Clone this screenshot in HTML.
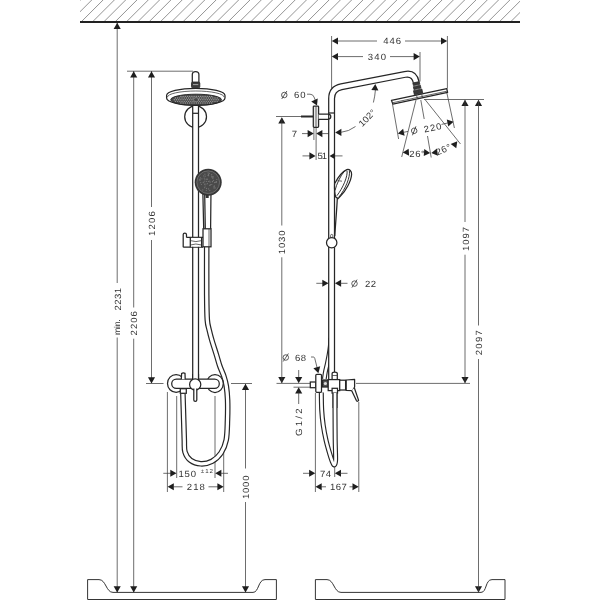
<!DOCTYPE html>
<html><head><meta charset="utf-8"><title>Shower pipe dimensions</title>
<style>
html,body{margin:0;padding:0;background:#fff;}
body{width:600px;height:600px;overflow:hidden;font-family:"Liberation Sans",sans-serif;}
svg{display:block}
svg text{font-family:"Liberation Sans",sans-serif;fill:#333;text-rendering:geometricPrecision}
.t{stroke:#3c3c3c;stroke-width:0.75}
.h{stroke:#666;stroke-width:0.7}
.k{stroke:#222;stroke-width:1.8}
.o{stroke:#262626;stroke-width:1.25}
.o2{stroke:#333;stroke-width:0.75}
.o3{stroke:#2a2a2a;stroke-width:0.95}
.w{stroke:#cfcfcf;stroke-width:0.7}
.a{fill:#1e1e1e}
</style></head><body>
<svg width="600" height="600" viewBox="0 0 600 600" fill="none">
<defs><filter id="nolcd" filterUnits="userSpaceOnUse" x="0" y="0" width="600" height="600"><feOffset dx="0" dy="0"/></filter><clipPath id="ceil"><rect x="80" y="0" width="440" height="22"/></clipPath></defs>
<rect width="600" height="600" fill="#fff"/>
<g clip-path="url(#ceil)">
<line class="h" x1="58.45" y1="22.00" x2="80.45" y2="0.00"/>
<line class="h" x1="69.75" y1="22.00" x2="91.75" y2="0.00"/>
<line class="h" x1="81.05" y1="22.00" x2="103.05" y2="0.00"/>
<line class="h" x1="92.35" y1="22.00" x2="114.35" y2="0.00"/>
<line class="h" x1="103.65" y1="22.00" x2="125.65" y2="0.00"/>
<line class="h" x1="114.95" y1="22.00" x2="136.95" y2="0.00"/>
<line class="h" x1="126.25" y1="22.00" x2="148.25" y2="0.00"/>
<line class="h" x1="137.55" y1="22.00" x2="159.55" y2="0.00"/>
<line class="h" x1="148.85" y1="22.00" x2="170.85" y2="0.00"/>
<line class="h" x1="160.15" y1="22.00" x2="182.15" y2="0.00"/>
<line class="h" x1="171.45" y1="22.00" x2="193.45" y2="0.00"/>
<line class="h" x1="182.75" y1="22.00" x2="204.75" y2="0.00"/>
<line class="h" x1="194.05" y1="22.00" x2="216.05" y2="0.00"/>
<line class="h" x1="205.35" y1="22.00" x2="227.35" y2="0.00"/>
<line class="h" x1="216.65" y1="22.00" x2="238.65" y2="0.00"/>
<line class="h" x1="227.95" y1="22.00" x2="249.95" y2="0.00"/>
<line class="h" x1="239.25" y1="22.00" x2="261.25" y2="0.00"/>
<line class="h" x1="250.55" y1="22.00" x2="272.55" y2="0.00"/>
<line class="h" x1="261.85" y1="22.00" x2="283.85" y2="0.00"/>
<line class="h" x1="273.15" y1="22.00" x2="295.15" y2="0.00"/>
<line class="h" x1="284.45" y1="22.00" x2="306.45" y2="0.00"/>
<line class="h" x1="295.75" y1="22.00" x2="317.75" y2="0.00"/>
<line class="h" x1="307.05" y1="22.00" x2="329.05" y2="0.00"/>
<line class="h" x1="318.35" y1="22.00" x2="340.35" y2="0.00"/>
<line class="h" x1="329.65" y1="22.00" x2="351.65" y2="0.00"/>
<line class="h" x1="340.95" y1="22.00" x2="362.95" y2="0.00"/>
<line class="h" x1="352.25" y1="22.00" x2="374.25" y2="0.00"/>
<line class="h" x1="363.55" y1="22.00" x2="385.55" y2="0.00"/>
<line class="h" x1="374.85" y1="22.00" x2="396.85" y2="0.00"/>
<line class="h" x1="386.15" y1="22.00" x2="408.15" y2="0.00"/>
<line class="h" x1="397.45" y1="22.00" x2="419.45" y2="0.00"/>
<line class="h" x1="408.75" y1="22.00" x2="430.75" y2="0.00"/>
<line class="h" x1="420.05" y1="22.00" x2="442.05" y2="0.00"/>
<line class="h" x1="431.35" y1="22.00" x2="453.35" y2="0.00"/>
<line class="h" x1="442.65" y1="22.00" x2="464.65" y2="0.00"/>
<line class="h" x1="453.95" y1="22.00" x2="475.95" y2="0.00"/>
<line class="h" x1="465.25" y1="22.00" x2="487.25" y2="0.00"/>
<line class="h" x1="476.55" y1="22.00" x2="498.55" y2="0.00"/>
<line class="h" x1="487.85" y1="22.00" x2="509.85" y2="0.00"/>
<line class="h" x1="499.15" y1="22.00" x2="521.15" y2="0.00"/>
<line class="h" x1="510.45" y1="22.00" x2="532.45" y2="0.00"/>
<line class="h" x1="521.75" y1="22.00" x2="543.75" y2="0.00"/>
</g>
<line class="k" x1="80.00" y1="22.00" x2="520.00" y2="22.00"/>
<line class="t" x1="127.00" y1="71.20" x2="193.00" y2="71.20"/>
<line class="t" x1="117.20" y1="23.00" x2="117.20" y2="283.00"/>
<line class="t" x1="117.20" y1="337.50" x2="117.20" y2="592.00"/>
<polygon class="a" points="117.20,22.80 120.75,29.00 113.65,29.00"/>
<polygon class="a" points="117.20,592.40 113.65,586.20 120.75,586.20"/>
<line class="t" x1="133.70" y1="71.00" x2="133.70" y2="307.50"/>
<line class="t" x1="133.70" y1="338.70" x2="133.70" y2="592.00"/>
<polygon class="a" points="133.70,71.30 137.25,77.50 130.15,77.50"/>
<polygon class="a" points="133.70,592.40 130.15,586.20 137.25,586.20"/>
<line class="t" x1="151.50" y1="71.00" x2="151.50" y2="207.00"/>
<line class="t" x1="151.50" y1="240.00" x2="151.50" y2="383.00"/>
<polygon class="a" points="151.50,71.30 155.05,77.50 147.95,77.50"/>
<polygon class="a" points="151.50,383.50 147.95,377.30 155.05,377.30"/>
<line class="t" x1="146.00" y1="383.50" x2="163.50" y2="383.50"/>
<line class="t" x1="231.00" y1="383.50" x2="252.00" y2="383.50"/>
<line class="t" x1="245.50" y1="384.00" x2="245.50" y2="468.50"/>
<line class="t" x1="245.50" y1="502.00" x2="245.50" y2="592.00"/>
<polygon class="a" points="245.50,383.80 249.05,390.00 241.95,390.00"/>
<polygon class="a" points="245.50,592.40 241.95,586.20 249.05,586.20"/>
<line class="t" x1="167.40" y1="392.00" x2="167.40" y2="492.00"/>
<line class="t" x1="176.70" y1="396.00" x2="176.70" y2="478.00"/>
<line class="t" x1="215.00" y1="396.00" x2="215.00" y2="478.00"/>
<line class="t" x1="223.70" y1="450.00" x2="223.70" y2="492.00"/>
<line class="t" x1="163.30" y1="473.30" x2="171.00" y2="473.30"/>
<polygon class="a" points="176.50,473.30 170.30,476.85 170.30,469.75"/>
<polygon class="a" points="215.20,473.30 221.40,469.75 221.40,476.85"/>
<line class="t" x1="220.50" y1="473.30" x2="228.00" y2="473.30"/>
<polygon class="a" points="167.60,486.80 173.80,483.25 173.80,490.35"/>
<line class="t" x1="173.00" y1="486.80" x2="182.50" y2="486.80"/>
<line class="t" x1="208.50" y1="486.80" x2="218.30" y2="486.80"/>
<polygon class="a" points="223.60,486.80 217.40,490.35 217.40,483.25"/>
<circle class="o" cx="195.6" cy="116.7" r="10.9"/>
<path d="M195.6 100 V381" fill="none" stroke="#262626" stroke-width="7.05" stroke-linecap="butt" stroke-linejoin="round"/>
<path d="M195.6 100 V381" fill="none" stroke="#fff" stroke-width="4.55" stroke-linecap="butt" stroke-linejoin="round"/>
<line class="o" x1="193.00" y1="113.30" x2="198.30" y2="113.30"/>
<path class="o" d="M192.3 82.5 V74.6 Q192.3 71.5 195.6 71.5 Q198.9 71.5 198.9 74.6 V82.5" fill="#fff"/>
<rect x="191.5" y="82" width="8.3" height="5.8" rx="1.2" fill="#3c3c3c" stroke="#222" stroke-width="0.8"/>
<line class="w" x1="193.00" y1="84.60" x2="198.30" y2="84.60"/>
<path class="o" d="M166.6 95.5 A29.2 7.1 0 0 1 225 95.5 V98 A29.2 7.4 0 0 1 166.6 98 Z" fill="#fff"/>
<path class="o2" d="M167.4 97.2 A28.4 6.2 0 0 1 224.2 97.2" />
<ellipse cx="196.1" cy="99.7" rx="25.4" ry="5.5" fill="#474747" stroke="#222" stroke-width="0.9"/>
<circle cx="180.90" cy="96.40" r="0.72" fill="#9a9a9a"/>
<circle cx="183.10" cy="96.40" r="0.72" fill="#9a9a9a"/>
<circle cx="185.30" cy="96.40" r="0.72" fill="#9a9a9a"/>
<circle cx="187.50" cy="96.40" r="0.72" fill="#9a9a9a"/>
<circle cx="189.70" cy="96.40" r="0.72" fill="#9a9a9a"/>
<circle cx="191.90" cy="96.40" r="0.72" fill="#9a9a9a"/>
<circle cx="194.10" cy="96.40" r="0.72" fill="#9a9a9a"/>
<circle cx="196.30" cy="96.40" r="0.72" fill="#9a9a9a"/>
<circle cx="198.50" cy="96.40" r="0.72" fill="#9a9a9a"/>
<circle cx="200.70" cy="96.40" r="0.72" fill="#9a9a9a"/>
<circle cx="202.90" cy="96.40" r="0.72" fill="#9a9a9a"/>
<circle cx="205.10" cy="96.40" r="0.72" fill="#9a9a9a"/>
<circle cx="207.30" cy="96.40" r="0.72" fill="#9a9a9a"/>
<circle cx="209.50" cy="96.40" r="0.72" fill="#9a9a9a"/>
<circle cx="211.70" cy="96.40" r="0.72" fill="#9a9a9a"/>
<circle cx="175.40" cy="98.05" r="0.72" fill="#9a9a9a"/>
<circle cx="177.60" cy="98.05" r="0.72" fill="#9a9a9a"/>
<circle cx="179.80" cy="98.05" r="0.72" fill="#9a9a9a"/>
<circle cx="182.00" cy="98.05" r="0.72" fill="#9a9a9a"/>
<circle cx="184.20" cy="98.05" r="0.72" fill="#9a9a9a"/>
<circle cx="186.40" cy="98.05" r="0.72" fill="#9a9a9a"/>
<circle cx="188.60" cy="98.05" r="0.72" fill="#9a9a9a"/>
<circle cx="190.80" cy="98.05" r="0.72" fill="#9a9a9a"/>
<circle cx="193.00" cy="98.05" r="0.72" fill="#9a9a9a"/>
<circle cx="199.60" cy="98.05" r="0.72" fill="#9a9a9a"/>
<circle cx="201.80" cy="98.05" r="0.72" fill="#9a9a9a"/>
<circle cx="204.00" cy="98.05" r="0.72" fill="#9a9a9a"/>
<circle cx="206.20" cy="98.05" r="0.72" fill="#9a9a9a"/>
<circle cx="208.40" cy="98.05" r="0.72" fill="#9a9a9a"/>
<circle cx="210.60" cy="98.05" r="0.72" fill="#9a9a9a"/>
<circle cx="212.80" cy="98.05" r="0.72" fill="#9a9a9a"/>
<circle cx="215.00" cy="98.05" r="0.72" fill="#9a9a9a"/>
<circle cx="217.20" cy="98.05" r="0.72" fill="#9a9a9a"/>
<circle cx="174.30" cy="99.70" r="0.72" fill="#9a9a9a"/>
<circle cx="176.50" cy="99.70" r="0.72" fill="#9a9a9a"/>
<circle cx="178.70" cy="99.70" r="0.72" fill="#9a9a9a"/>
<circle cx="180.90" cy="99.70" r="0.72" fill="#9a9a9a"/>
<circle cx="183.10" cy="99.70" r="0.72" fill="#9a9a9a"/>
<circle cx="185.30" cy="99.70" r="0.72" fill="#9a9a9a"/>
<circle cx="187.50" cy="99.70" r="0.72" fill="#9a9a9a"/>
<circle cx="189.70" cy="99.70" r="0.72" fill="#9a9a9a"/>
<circle cx="191.90" cy="99.70" r="0.72" fill="#9a9a9a"/>
<circle cx="198.50" cy="99.70" r="0.72" fill="#9a9a9a"/>
<circle cx="200.70" cy="99.70" r="0.72" fill="#9a9a9a"/>
<circle cx="202.90" cy="99.70" r="0.72" fill="#9a9a9a"/>
<circle cx="205.10" cy="99.70" r="0.72" fill="#9a9a9a"/>
<circle cx="207.30" cy="99.70" r="0.72" fill="#9a9a9a"/>
<circle cx="209.50" cy="99.70" r="0.72" fill="#9a9a9a"/>
<circle cx="211.70" cy="99.70" r="0.72" fill="#9a9a9a"/>
<circle cx="213.90" cy="99.70" r="0.72" fill="#9a9a9a"/>
<circle cx="216.10" cy="99.70" r="0.72" fill="#9a9a9a"/>
<circle cx="218.30" cy="99.70" r="0.72" fill="#9a9a9a"/>
<circle cx="175.40" cy="101.35" r="0.72" fill="#9a9a9a"/>
<circle cx="177.60" cy="101.35" r="0.72" fill="#9a9a9a"/>
<circle cx="179.80" cy="101.35" r="0.72" fill="#9a9a9a"/>
<circle cx="182.00" cy="101.35" r="0.72" fill="#9a9a9a"/>
<circle cx="184.20" cy="101.35" r="0.72" fill="#9a9a9a"/>
<circle cx="186.40" cy="101.35" r="0.72" fill="#9a9a9a"/>
<circle cx="188.60" cy="101.35" r="0.72" fill="#9a9a9a"/>
<circle cx="190.80" cy="101.35" r="0.72" fill="#9a9a9a"/>
<circle cx="193.00" cy="101.35" r="0.72" fill="#9a9a9a"/>
<circle cx="199.60" cy="101.35" r="0.72" fill="#9a9a9a"/>
<circle cx="201.80" cy="101.35" r="0.72" fill="#9a9a9a"/>
<circle cx="204.00" cy="101.35" r="0.72" fill="#9a9a9a"/>
<circle cx="206.20" cy="101.35" r="0.72" fill="#9a9a9a"/>
<circle cx="208.40" cy="101.35" r="0.72" fill="#9a9a9a"/>
<circle cx="210.60" cy="101.35" r="0.72" fill="#9a9a9a"/>
<circle cx="212.80" cy="101.35" r="0.72" fill="#9a9a9a"/>
<circle cx="215.00" cy="101.35" r="0.72" fill="#9a9a9a"/>
<circle cx="217.20" cy="101.35" r="0.72" fill="#9a9a9a"/>
<circle cx="180.90" cy="103.00" r="0.72" fill="#9a9a9a"/>
<circle cx="183.10" cy="103.00" r="0.72" fill="#9a9a9a"/>
<circle cx="185.30" cy="103.00" r="0.72" fill="#9a9a9a"/>
<circle cx="187.50" cy="103.00" r="0.72" fill="#9a9a9a"/>
<circle cx="189.70" cy="103.00" r="0.72" fill="#9a9a9a"/>
<circle cx="191.90" cy="103.00" r="0.72" fill="#9a9a9a"/>
<circle cx="194.10" cy="103.00" r="0.72" fill="#9a9a9a"/>
<circle cx="196.30" cy="103.00" r="0.72" fill="#9a9a9a"/>
<circle cx="198.50" cy="103.00" r="0.72" fill="#9a9a9a"/>
<circle cx="200.70" cy="103.00" r="0.72" fill="#9a9a9a"/>
<circle cx="202.90" cy="103.00" r="0.72" fill="#9a9a9a"/>
<circle cx="205.10" cy="103.00" r="0.72" fill="#9a9a9a"/>
<circle cx="207.30" cy="103.00" r="0.72" fill="#9a9a9a"/>
<circle cx="209.50" cy="103.00" r="0.72" fill="#9a9a9a"/>
<circle cx="211.70" cy="103.00" r="0.72" fill="#9a9a9a"/>
<ellipse cx="196.1" cy="99.7" rx="2.6" ry="2.1" fill="none" stroke="#9a9a9a" stroke-width="0.7"/>
<path d="M206.70 246.00 C206.70 254.17 206.60 282.67 206.70 295.00 C206.80 307.33 206.88 314.17 207.30 320.00 C207.72 325.83 208.45 326.67 209.20 330.00 C209.95 333.33 210.58 335.83 211.80 340.00 C213.02 344.17 215.17 350.67 216.50 355.00 C217.83 359.33 218.58 362.50 219.80 366.00 C221.02 369.50 222.72 372.67 223.80 376.00 C224.88 379.33 225.67 382.00 226.30 386.00 C226.93 390.00 227.40 394.33 227.60 400.00 C227.80 405.67 227.73 413.33 227.50 420.00 C227.27 426.67 227.28 434.50 226.20 440.00 C225.12 445.50 223.37 449.45 221.00 453.00 C218.63 456.55 215.37 459.50 212.00 461.30 C208.63 463.10 204.38 463.97 200.80 463.80 C197.22 463.63 193.13 462.27 190.50 460.30 C187.87 458.33 186.03 455.38 185.00 452.00 C183.97 448.62 184.52 445.33 184.30 440.00 C184.08 434.67 183.93 427.67 183.70 420.00 C183.47 412.33 183.03 398.33 182.90 394.00" fill="none" stroke="#262626" stroke-width="5.60" stroke-linecap="butt" stroke-linejoin="round"/>
<path d="M206.70 246.00 C206.70 254.17 206.60 282.67 206.70 295.00 C206.80 307.33 206.88 314.17 207.30 320.00 C207.72 325.83 208.45 326.67 209.20 330.00 C209.95 333.33 210.58 335.83 211.80 340.00 C213.02 344.17 215.17 350.67 216.50 355.00 C217.83 359.33 218.58 362.50 219.80 366.00 C221.02 369.50 222.72 372.67 223.80 376.00 C224.88 379.33 225.67 382.00 226.30 386.00 C226.93 390.00 227.40 394.33 227.60 400.00 C227.80 405.67 227.73 413.33 227.50 420.00 C227.27 426.67 227.28 434.50 226.20 440.00 C225.12 445.50 223.37 449.45 221.00 453.00 C218.63 456.55 215.37 459.50 212.00 461.30 C208.63 463.10 204.38 463.97 200.80 463.80 C197.22 463.63 193.13 462.27 190.50 460.30 C187.87 458.33 186.03 455.38 185.00 452.00 C183.97 448.62 184.52 445.33 184.30 440.00 C184.08 434.67 183.93 427.67 183.70 420.00 C183.47 412.33 183.03 398.33 182.90 394.00" fill="none" stroke="#fff" stroke-width="3.20" stroke-linecap="butt" stroke-linejoin="round"/>
<polygon points="202.8,192 211,192 210.6,229 203.7,229" fill="#fff"/>
<path class="o" d="M202.8 190 L203.7 229 M211 190 L210.6 229 M204.7 194 L205.3 229" />
<circle cx="208.2" cy="182.2" r="13.5" fill="#363636"/>
<circle cx="208.2" cy="182.2" r="11.4" fill="#4a4a4a" stroke="#8a8a8a" stroke-width="0.6"/>
<circle cx="208.1" cy="172.9" r="0.6" fill="#777"/>
<circle cx="201.4" cy="184.5" r="0.6" fill="#777"/>
<circle cx="209.8" cy="185.4" r="0.6" fill="#777"/>
<circle cx="199.4" cy="179.8" r="0.6" fill="#777"/>
<circle cx="204.2" cy="178.1" r="0.6" fill="#777"/>
<circle cx="212.6" cy="181.3" r="0.6" fill="#777"/>
<circle cx="205.2" cy="176.2" r="0.6" fill="#777"/>
<circle cx="206.3" cy="190.3" r="0.6" fill="#777"/>
<circle cx="207.4" cy="183.7" r="0.6" fill="#777"/>
<circle cx="209.3" cy="173.3" r="0.6" fill="#777"/>
<circle cx="208.4" cy="174.4" r="0.6" fill="#777"/>
<circle cx="208.0" cy="175.5" r="0.6" fill="#777"/>
<circle cx="206.5" cy="181.3" r="0.6" fill="#777"/>
<circle cx="200.7" cy="182.7" r="0.6" fill="#777"/>
<circle cx="207.5" cy="179.2" r="0.6" fill="#777"/>
<circle cx="214.0" cy="187.9" r="0.6" fill="#777"/>
<circle cx="203.2" cy="182.7" r="0.6" fill="#777"/>
<circle cx="211.7" cy="176.0" r="0.6" fill="#777"/>
<circle cx="210.2" cy="185.0" r="0.6" fill="#777"/>
<circle cx="205.9" cy="184.1" r="0.6" fill="#777"/>
<circle cx="204.9" cy="174.2" r="0.6" fill="#777"/>
<circle cx="200.1" cy="180.2" r="0.6" fill="#777"/>
<circle cx="212.6" cy="178.0" r="0.6" fill="#777"/>
<circle cx="209.7" cy="181.1" r="0.6" fill="#777"/>
<circle cx="212.4" cy="181.7" r="0.6" fill="#777"/>
<circle cx="211.8" cy="184.5" r="0.6" fill="#777"/>
<circle cx="205.1" cy="186.0" r="0.6" fill="#777"/>
<circle cx="204.8" cy="181.1" r="0.6" fill="#777"/>
<circle cx="216.2" cy="181.8" r="0.6" fill="#777"/>
<circle cx="208.6" cy="188.9" r="0.6" fill="#777"/>
<circle cx="201.9" cy="178.8" r="0.6" fill="#777"/>
<circle cx="206.5" cy="179.2" r="0.6" fill="#777"/>
<circle cx="213.0" cy="178.0" r="0.6" fill="#777"/>
<circle cx="208.6" cy="175.7" r="0.6" fill="#777"/>
<circle cx="208.4" cy="181.4" r="0.6" fill="#777"/>
<circle cx="202.8" cy="189.9" r="0.6" fill="#777"/>
<circle cx="213.6" cy="180.3" r="0.6" fill="#777"/>
<circle cx="200.5" cy="177.8" r="0.6" fill="#777"/>
<circle cx="215.1" cy="187.9" r="0.6" fill="#777"/>
<circle cx="206.6" cy="188.4" r="0.6" fill="#777"/>
<circle cx="209.8" cy="190.4" r="0.6" fill="#777"/>
<circle cx="210.1" cy="182.1" r="0.6" fill="#777"/>
<circle cx="200.1" cy="179.1" r="0.6" fill="#777"/>
<circle cx="211.7" cy="174.5" r="0.6" fill="#777"/>
<circle cx="215.3" cy="182.5" r="0.6" fill="#777"/>
<circle cx="216.8" cy="179.5" r="0.6" fill="#777"/>
<circle cx="216.3" cy="181.5" r="0.6" fill="#777"/>
<circle cx="210.8" cy="184.5" r="0.6" fill="#777"/>
<circle cx="204.7" cy="187.7" r="0.6" fill="#777"/>
<circle cx="212.1" cy="176.7" r="0.6" fill="#777"/>
<circle cx="203.8" cy="182.0" r="0.6" fill="#777"/>
<circle cx="203.7" cy="175.9" r="0.6" fill="#777"/>
<circle cx="214.1" cy="186.7" r="0.6" fill="#777"/>
<circle cx="214.3" cy="185.9" r="0.6" fill="#777"/>
<circle cx="214.6" cy="182.6" r="0.6" fill="#777"/>
<circle cx="216.3" cy="182.5" r="0.6" fill="#777"/>
<circle cx="212.0" cy="177.1" r="0.6" fill="#777"/>
<circle cx="213.3" cy="176.8" r="0.6" fill="#777"/>
<circle cx="204.9" cy="179.2" r="0.6" fill="#777"/>
<circle cx="204.6" cy="184.2" r="0.6" fill="#777"/>
<rect x="205.7" y="195" width="3" height="3" fill="#333"/>
<rect class="o" x="203" y="228.8" width="8" height="18" fill="#fff"/>
<line class="o2" x1="209.00" y1="229.00" x2="209.00" y2="246.50"/>
<path class="o" d="M203 237.4 H186.5 M183.2 247.2 H203 M183.2 247.2 V234.5 Q183.2 233 184.8 233 Q186.5 233 186.5 234.8 V237.4" />
<rect x="190.3" y="237.9" width="11.3" height="8.8" fill="#fff"/>
<path class="o" d="M190.3 237.4 V247.2 M201.6 237.4 V247.2" />
<path class="o2" d="M190.3 240.6 Q195.8 242.6 201.6 240.6 M190.3 245 Q195.8 243 201.6 245" />
<ellipse class="o" cx="176.1" cy="383.4" rx="8.6" ry="8.9" fill="#fff"/>
<ellipse class="o" cx="215" cy="383.5" rx="8.3" ry="9.0" fill="#fff"/>
<rect class="o" x="171.7" y="379" width="47.6" height="9.3" rx="4.65" fill="#fff"/>
<path class="o" d="M181.3 379.3 L181.6 373.6 Q183.2 372.3 185 373.4 L185.2 379.3" fill="#fff"/>
<rect class="o" x="180.3" y="388.7" width="6" height="4.6" fill="#fff"/>
<path d="M195.6 374 V381" fill="none" stroke="#262626" stroke-width="7.05" stroke-linecap="butt" stroke-linejoin="round"/>
<path d="M195.6 374 V381" fill="none" stroke="#fff" stroke-width="4.55" stroke-linecap="butt" stroke-linejoin="round"/>
<circle class="o" cx="195.2" cy="384.5" r="5.6" fill="#fff"/>
<path class="o" d="M193.8 388.5 V400 Q193.8 401.4 195.3 401.4 Q196.8 401.4 196.8 400 V388.5" fill="#fff"/>
<path class="o3" d="M87.6 599.4 V579.6 H99 C106 579.6 106 592.4 113 592.4 H253 C259 592.4 258 579.6 265 579.6 H276.4 V599.4" />
<line class="o3" x1="87.60" y1="599.50" x2="276.40" y2="599.50"/>
<path class="o3" d="M315.4 599.4 V579.6 H327 C334 579.6 334 592.4 341 592.4 H481 C487 592.4 485 579.6 492 579.6 H505 V599.4" />
<line class="o3" x1="315.40" y1="599.50" x2="505.00" y2="599.50"/>
<line class="t" x1="331.60" y1="36.00" x2="331.60" y2="88.00"/>
<line class="t" x1="447.40" y1="36.00" x2="447.40" y2="88.50"/>
<line class="t" x1="420.00" y1="52.00" x2="420.00" y2="81.50"/>
<polygon class="a" points="331.80,41.00 338.00,37.45 338.00,44.55"/>
<line class="t" x1="337.00" y1="41.00" x2="377.00" y2="41.00"/>
<line class="t" x1="405.00" y1="41.00" x2="442.00" y2="41.00"/>
<polygon class="a" points="447.20,41.00 441.00,44.55 441.00,37.45"/>
<polygon class="a" points="331.80,56.60 338.00,53.05 338.00,60.15"/>
<line class="t" x1="337.00" y1="56.60" x2="363.00" y2="56.60"/>
<line class="t" x1="390.00" y1="56.60" x2="414.50" y2="56.60"/>
<polygon class="a" points="419.80,56.60 413.60,60.15 413.60,53.05"/>
<g transform="rotate(0 284.3 95)"><circle class="t" cx="284.3" cy="95" r="2.75" style="stroke:#333;stroke-width:0.8"/><line x1="281.7" y1="99.0" x2="286.90000000000003" y2="91.0" style="stroke:#333;stroke-width:0.8"/></g>
<path class="t" d="M307 94.2 H310 Q313 94.2 314 97 L316 102" fill="none"/>
<polygon class="a" points="317.00,105.60 311.24,101.38 317.72,98.49"/>
<line class="t" x1="276.00" y1="116.50" x2="301.00" y2="116.50"/>
<line x1="301" y1="116.5" x2="313.3" y2="116.5" stroke="#2a2a2a" stroke-width="2"/>
<polygon class="a" points="281.80,117.20 285.35,123.40 278.25,123.40"/>
<polygon class="a" points="281.80,383.30 278.25,377.10 285.35,377.10"/>
<line class="t" x1="281.80" y1="118.00" x2="281.80" y2="225.50"/>
<line class="t" x1="281.80" y1="257.30" x2="281.80" y2="383.00"/>
<line class="t" x1="302.00" y1="133.60" x2="308.50" y2="133.60"/>
<polygon class="a" points="313.80,133.60 307.60,137.15 307.60,130.05"/>
<polygon class="a" points="316.20,133.60 322.40,130.05 322.40,137.15"/>
<line class="t" x1="321.50" y1="133.60" x2="328.70" y2="133.60"/>
<line class="t" x1="313.90" y1="127.50" x2="313.90" y2="140.00"/>
<line class="t" x1="316.10" y1="127.50" x2="316.10" y2="160.00"/>
<line class="t" x1="302.50" y1="155.90" x2="310.00" y2="155.90"/>
<polygon class="a" points="315.60,155.90 309.40,159.45 309.40,152.35"/>
<line class="t" x1="334.50" y1="155.90" x2="342.50" y2="155.90"/>
<polygon class="a" points="335.20,132.40 341.40,128.85 341.40,135.95"/>
<path class="t" d="M340.5 132.4 Q349 131.5 355.5 126.5" fill="none"/>
<path class="t" d="M373.4 102.5 Q375 96 375.4 90" fill="none"/>
<polygon class="a" points="375.30,84.00 378.41,90.43 371.33,89.94"/>
<line class="t" x1="316.30" y1="283.30" x2="323.00" y2="283.30"/>
<polygon class="a" points="328.50,283.30 322.30,286.85 322.30,279.75"/>
<polygon class="a" points="334.90,283.30 341.10,279.75 341.10,286.85"/>
<line class="t" x1="340.20" y1="283.30" x2="347.50" y2="283.30"/>
<g transform="rotate(0 354.5 283.6)"><circle class="t" cx="354.5" cy="283.6" r="2.75" style="stroke:#333;stroke-width:0.8"/><line x1="351.9" y1="287.6" x2="357.1" y2="279.6" style="stroke:#333;stroke-width:0.8"/></g>
<g transform="rotate(0 285.8 357.5)"><circle class="t" cx="285.8" cy="357.5" r="2.75" style="stroke:#333;stroke-width:0.8"/><line x1="283.2" y1="361.5" x2="288.40000000000003" y2="353.5" style="stroke:#333;stroke-width:0.8"/></g>
<path class="t" d="M311 357 H313.4 Q314.4 357 314.8 358.5 L317.2 368" fill="none"/>
<polygon class="a" points="318.40,373.20 313.37,368.13 320.22,366.29"/>
<line class="t" x1="276.50" y1="383.40" x2="310.00" y2="383.40"/>
<line class="t" x1="293.50" y1="387.20" x2="310.00" y2="387.20"/>
<line class="t" x1="298.70" y1="370.00" x2="298.70" y2="378.00"/>
<polygon class="a" points="298.70,383.30 295.15,377.10 302.25,377.10"/>
<polygon class="a" points="298.70,387.30 302.25,393.50 295.15,393.50"/>
<line class="t" x1="298.70" y1="392.50" x2="298.70" y2="404.00"/>
<line class="t" x1="315.40" y1="393.00" x2="315.40" y2="492.00"/>
<line class="t" x1="334.70" y1="466.70" x2="334.70" y2="477.00"/>
<line class="t" x1="358.80" y1="402.00" x2="358.80" y2="492.00"/>
<line class="t" x1="303.00" y1="473.30" x2="310.00" y2="473.30"/>
<polygon class="a" points="315.30,473.30 309.10,476.85 309.10,469.75"/>
<polygon class="a" points="334.80,473.30 341.00,469.75 341.00,476.85"/>
<line class="t" x1="340.00" y1="473.30" x2="347.50" y2="473.30"/>
<polygon class="a" points="315.50,486.80 321.70,483.25 321.70,490.35"/>
<line class="t" x1="321.00" y1="486.80" x2="326.00" y2="486.80"/>
<line class="t" x1="349.50" y1="486.80" x2="353.30" y2="486.80"/>
<polygon class="a" points="358.70,486.80 352.50,490.35 352.50,483.25"/>
<line class="t" x1="424.00" y1="99.50" x2="484.00" y2="99.50"/>
<line class="t" x1="356.00" y1="383.40" x2="470.00" y2="383.40"/>
<polygon class="a" points="465.00,99.80 468.55,106.00 461.45,106.00"/>
<polygon class="a" points="465.00,383.20 461.45,377.00 468.55,377.00"/>
<line class="t" x1="465.00" y1="100.00" x2="465.00" y2="222.00"/>
<line class="t" x1="465.00" y1="254.70" x2="465.00" y2="383.00"/>
<polygon class="a" points="478.50,99.80 482.05,106.00 474.95,106.00"/>
<polygon class="a" points="478.50,592.40 474.95,586.20 482.05,586.20"/>
<line class="t" x1="478.50" y1="100.00" x2="478.50" y2="325.50"/>
<line class="t" x1="478.50" y1="359.00" x2="478.50" y2="592.00"/>
<line class="t" x1="392.50" y1="104.20" x2="398.60" y2="139.00"/>
<line class="t" x1="446.80" y1="92.60" x2="454.40" y2="128.00"/>
<line class="t" x1="416.00" y1="100.00" x2="401.70" y2="157.00"/>
<line class="t" x1="420.80" y1="100.00" x2="424.20" y2="119.00"/>
<line class="t" x1="427.50" y1="136.00" x2="431.20" y2="157.50"/>
<line class="t" x1="425.00" y1="99.50" x2="460.50" y2="144.00"/>
<polygon class="a" points="397.80,133.60 403.13,128.84 404.60,135.78"/>
<line class="t" x1="403.30" y1="132.40" x2="408.00" y2="131.40"/>
<polygon class="a" points="453.60,121.80 448.27,126.56 446.80,119.62"/>
<line class="t" x1="441.50" y1="124.40" x2="448.20" y2="122.90"/>
<g transform="rotate(-12 414.2 130.8)"><circle class="t" cx="414.2" cy="130.8" r="2.75" style="stroke:#333;stroke-width:0.8"/><line x1="411.59999999999997" y1="134.8" x2="416.8" y2="126.80000000000001" style="stroke:#333;stroke-width:0.8"/></g>
<polygon class="a" points="402.70,152.60 408.64,148.63 409.13,155.71"/>
<polygon class="a" points="430.20,153.00 423.77,156.11 424.26,149.03"/>
<polygon class="a" points="431.30,153.00 436.95,148.62 437.93,155.65"/>
<polygon class="a" points="457.30,141.20 456.28,148.27 450.69,143.90"/>
<path d="M330.80 338.00 C330.72 339.33 330.60 343.17 330.30 346.00 C330.00 348.83 329.52 352.00 329.00 355.00 C328.48 358.00 327.80 361.17 327.20 364.00 C326.60 366.83 325.88 369.50 325.40 372.00 C324.92 374.50 324.48 377.83 324.30 379.00" fill="none" stroke="#262626" stroke-width="4.80" stroke-linecap="butt" stroke-linejoin="round"/>
<path d="M330.80 338.00 C330.72 339.33 330.60 343.17 330.30 346.00 C330.00 348.83 329.52 352.00 329.00 355.00 C328.48 358.00 327.80 361.17 327.20 364.00 C326.60 366.83 325.88 369.50 325.40 372.00 C324.92 374.50 324.48 377.83 324.30 379.00" fill="none" stroke="#fff" stroke-width="2.60" stroke-linecap="butt" stroke-linejoin="round"/>
<path d="M321.30 392.50 C321.37 395.42 321.38 404.58 321.70 410.00 C322.02 415.42 322.48 420.00 323.20 425.00 C323.92 430.00 324.95 435.33 326.00 440.00 C327.05 444.67 328.40 449.28 329.50 453.00 C330.60 456.72 331.77 460.33 332.60 462.30 C333.43 464.27 334.00 465.18 334.50 464.80 C335.00 464.42 335.48 464.13 335.60 460.00 C335.72 455.87 335.30 448.33 335.20 440.00 C335.10 431.67 335.03 417.75 335.00 410.00 C334.97 402.25 335.00 396.25 335.00 393.50" fill="none" stroke="#262626" stroke-width="5.05" stroke-linecap="butt" stroke-linejoin="round"/>
<path d="M321.30 392.50 C321.37 395.42 321.38 404.58 321.70 410.00 C322.02 415.42 322.48 420.00 323.20 425.00 C323.92 430.00 324.95 435.33 326.00 440.00 C327.05 444.67 328.40 449.28 329.50 453.00 C330.60 456.72 331.77 460.33 332.60 462.30 C333.43 464.27 334.00 465.18 334.50 464.80 C335.00 464.42 335.48 464.13 335.60 460.00 C335.72 455.87 335.30 448.33 335.20 440.00 C335.10 431.67 335.03 417.75 335.00 410.00 C334.97 402.25 335.00 396.25 335.00 393.50" fill="none" stroke="#fff" stroke-width="2.75" stroke-linecap="butt" stroke-linejoin="round"/>
<rect class="o" x="313.3" y="106" width="5.3" height="21.3" rx="0.8" fill="#e9e9e9"/>
<line class="o2" x1="316.00" y1="106.50" x2="316.00" y2="127.00"/>
<path class="o" d="M318.6 114 H328 Q330.8 114 330.8 116.6 Q330.8 119.3 328 119.3 H318.6" fill="#fff"/>
<path d="M331.6 380 L331.6 98.6 Q331.6 88.75 341.4 86.8 L404.9 74.4 Q414.2 72.55 416.2 82.2" fill="none" stroke="#262626" stroke-width="7.05" stroke-linecap="butt" stroke-linejoin="round"/>
<path d="M331.6 380 L331.6 98.6 Q331.6 88.75 341.4 86.8 L404.9 74.4 Q414.2 72.55 416.2 82.2" fill="none" stroke="#fff" stroke-width="4.55" stroke-linecap="butt" stroke-linejoin="round"/>
<line class="o" x1="328.70" y1="113.00" x2="334.50" y2="113.00"/>
<path class="o" d="M328 114 Q330.8 114 330.8 116.6 Q330.8 119.3 328 119.3" />
<polygon points="412.84,82.98 419.29,81.61 419.85,84.25 413.40,85.62" fill="#3a3a3a" stroke="#222" stroke-width="0.7" stroke-linejoin="round"/>
<polygon points="413.31,86.66 420.35,85.16 420.98,88.10 413.94,89.59" fill="#3a3a3a" stroke="#222" stroke-width="0.7" stroke-linejoin="round"/>
<polygon points="413.46,90.72 421.87,88.93 422.74,93.04 414.33,94.83" fill="#3a3a3a" stroke="#222" stroke-width="0.7" stroke-linejoin="round"/>
<polygon class="o" points="391.42,100.34 446.78,88.56 447.61,92.48 392.84,104.12" fill="#fff" stroke-linejoin="round"/>
<line class="o2" x1="392.45" y1="102.78" x2="447.22" y2="91.13"/>
<line class="o2" x1="416.62" y1="95.28" x2="417.33" y2="98.61"/>
<line class="o2" x1="421.71" y1="94.20" x2="422.41" y2="97.53"/>
<polygon class="a" points="329.50,155.90 334.50,152.90 334.50,158.90"/>
<path class="o" d="M334.6 183.8 C338 177 342.5 171.5 346.8 169.6 C349.5 168.8 351.8 171 351.6 174.5 C351.2 181 345.5 191.5 340.5 196 L338 198.6 L335.6 196.8 C334.6 193 334.4 189 334.6 183.8 Z" fill="#fff"/>
<path class="o3" d="M347 170.6 C348 176 343 188 336.8 195.8" />
<path class="o3" d="M349.4 170.6 C350.4 177 345.5 189 338.8 197.2" />
<path class="o3" d="M335 190.5 C336.5 184.5 340 176 345 170.5" />
<line class="o2" x1="337.50" y1="180.60" x2="342.00" y2="181.20"/>
<path class="o" d="M337.3 198.4 C336.8 210 335.6 222 334.8 236" />
<circle class="o" cx="331.7" cy="242.7" r="5.2" fill="#fff"/>
<path class="o2" d="M330.6 238 V235.6 Q330.6 234.4 331.7 234.4 Q332.8 234.4 332.8 235.6 V238" />
<rect class="o" x="310.3" y="382" width="5.5" height="5.7" fill="#fff"/>
<rect class="o" x="315.8" y="374.3" width="5.7" height="18" rx="1" fill="#fff"/>
<rect class="o" x="322.6" y="380" width="5.6" height="7" fill="#555"/>
<circle cx="325.4" cy="383.5" r="1.6" fill="#ddd"/>
<path class="o" d="M332.1 379.6 V373.4 Q332.1 372 334.7 372 Q337.3 372 337.3 373.4 V379.6" fill="#fff"/>
<line class="o2" x1="332.10" y1="375.50" x2="337.30" y2="375.50"/>
<rect class="o" x="328.2" y="379.6" width="11.5" height="11" fill="#fff"/>
<rect class="o" x="332.1" y="388.3" width="5.4" height="4.8" fill="#fff"/>
<rect class="o" x="339.7" y="380.2" width="5.9" height="9.8" fill="#fff"/>
<path class="o" d="M346.2 380 L354.6 379.4 L354.6 387 L352.6 390.6 L346.2 390.4 Z" fill="#fff" stroke-linejoin="round"/>
<path class="o" d="M351.6 390.4 L356.4 400.6 Q357.6 402 358.6 400.4 L354.4 388" fill="#fff" stroke-linejoin="round"/>
<path d="M335 393 V408" fill="none" stroke="#262626" stroke-width="5.05" stroke-linecap="butt" stroke-linejoin="round"/>
<path d="M335 393 V408" fill="none" stroke="#fff" stroke-width="2.75" stroke-linecap="butt" stroke-linejoin="round"/>
<g filter="url(#nolcd)">
<text transform="translate(120.40 334.90) rotate(-90) scale(1.06 1)" font-size="8.4" textLength="14.72" lengthAdjust="spacing" >min.</text>
<text transform="translate(120.70 310.60) rotate(-90) scale(1.06 1)" font-size="9.0" textLength="21.32" lengthAdjust="spacing" >2231</text>
<text transform="translate(137.20 335.40) rotate(-90) scale(1.06 1)" font-size="9.0" textLength="22.83" lengthAdjust="spacing" >2206</text>
<text transform="translate(155.00 236.00) rotate(-90) scale(1.06 1)" font-size="9.0" textLength="23.40" lengthAdjust="spacing" >1206</text>
<text transform="translate(249.00 499.00) rotate(-90) scale(1.06 1)" font-size="9.0" textLength="22.17" lengthAdjust="spacing" >1000</text>
<text transform="translate(178.40 477.00) rotate(0) scale(1.06 1)" font-size="9.0" textLength="16.60" lengthAdjust="spacing" >150</text>
<text transform="translate(200.80 473.40) rotate(0) scale(1.06 1)" font-size="5.8" textLength="11.51" lengthAdjust="spacing" >±12</text>
<text transform="translate(186.80 490.40) rotate(0) scale(1.06 1)" font-size="9.0" textLength="16.98" lengthAdjust="spacing" >218</text>
<text transform="translate(383.20 44.40) rotate(0) scale(1.06 1)" font-size="9.0" textLength="16.98" lengthAdjust="spacing" >446</text>
<text transform="translate(367.80 60.00) rotate(0) scale(1.06 1)" font-size="9.0" textLength="17.17" lengthAdjust="spacing" >340</text>
<text transform="translate(294.00 98.40) rotate(0) scale(1.06 1)" font-size="9.0" textLength="10.85" lengthAdjust="spacing" >60</text>
<text transform="translate(285.30 254.20) rotate(-90) scale(1.06 1)" font-size="9.0" textLength="22.45" lengthAdjust="spacing" >1030</text>
<text transform="translate(291.80 137.00) rotate(0) scale(1.06 1)" font-size="9.0" >7</text>
<text transform="translate(317.60 159.40) rotate(0) scale(1.06 1)" font-size="9.0" textLength="8.96" lengthAdjust="spacing" >51</text>
<text transform="translate(362.20 127.20) rotate(-45) scale(1.06 1)" font-size="9.0" textLength="18.87" lengthAdjust="spacing" >102°</text>
<text transform="translate(365.00 287.20) rotate(0) scale(1.06 1)" font-size="9.0" textLength="10.38" lengthAdjust="spacing" >22</text>
<text transform="translate(295.00 361.00) rotate(0) scale(1.06 1)" font-size="9.0" textLength="10.38" lengthAdjust="spacing" >68</text>
<text transform="translate(302.30 436.00) rotate(-90) scale(1.06 1)" font-size="9.0" textLength="25.94" lengthAdjust="spacing" >G1/2</text>
<text transform="translate(320.00 477.00) rotate(0) scale(1.06 1)" font-size="9.0" textLength="10.38" lengthAdjust="spacing" >74</text>
<text transform="translate(330.00 490.40) rotate(0) scale(1.06 1)" font-size="9.0" textLength="15.85" lengthAdjust="spacing" >167</text>
<text transform="translate(468.60 251.00) rotate(-90) scale(1.06 1)" font-size="9.0" textLength="22.64" lengthAdjust="spacing" >1097</text>
<text transform="translate(482.10 355.20) rotate(-90) scale(1.06 1)" font-size="9.0" textLength="23.58" lengthAdjust="spacing" >2097</text>
<text transform="translate(424.60 132.60) rotate(-12) scale(1.06 1)" font-size="9.0" textLength="16.79" lengthAdjust="spacing" >220</text>
<text transform="translate(409.30 157.30) rotate(0) scale(1.06 1)" font-size="9.0" textLength="14.62" lengthAdjust="spacing" >26°</text>
<text transform="translate(437.50 155.50) rotate(-24) scale(1.06 1)" font-size="9.0" textLength="14.62" lengthAdjust="spacing" >26°</text>
</g>
</svg>
</body></html>
